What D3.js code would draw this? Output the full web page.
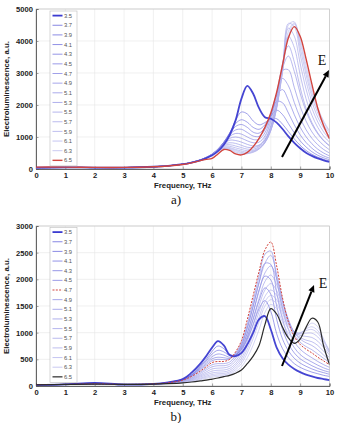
<!DOCTYPE html>
<html><head><meta charset="utf-8">
<script src="https://cdn.jsdelivr.net/npm/d3@7"></script>
<style>html,body{margin:0;padding:0;background:#fff}svg{display:block}</style>
</head><body>
<script>
// ---------- DATA ----------
const freq = [0,1,2,3,4,4.5,5,5.3,5.6,5.8,6.0,6.2,6.4,6.6,6.8,7.0,7.2,7.4,7.6,7.8,8.0,8.2,8.4,8.6,8.8,9.0,9.2,9.4,9.6,9.8,10];
const fieldLabels = ["3.5","3.7","3.9","4.1","4.3","4.5","4.7","4.9","5.1","5.3","5.5","5.7","5.9","6.1","6.3","6.5"];
const xTicks = [0,1,2,3,4,5,6,7,8,9,10];
const yTicksA = [0,1000,2000,3000,4000,5000];
const yTicksB = [0,500,1000,1500,2000,2500,3000];

// panel a)
const a35 = [40,50,45,45,70,100,150,200,270,340,430,560,760,1060,1520,2200,2600,2350,1900,1620,1570,1450,1250,1020,820,650,510,410,330,270,220];
const a37 = [40,50,45,45,70,100,150,200,275,345,440,580,800,1120,1520,1780,1720,1500,1380,1450,1580,1570,1400,1170,940,740,580,460,370,300,250];
const a39 = [40,50,45,45,70,100,150,205,280,350,450,600,830,1130,1420,1540,1460,1300,1240,1380,1650,1840,1700,1420,1130,880,690,540,430,350,290];
const a41 = [40,50,45,45,70,100,150,205,280,355,455,610,840,1110,1330,1390,1300,1150,1120,1300,1700,2110,2070,1750,1380,1070,830,650,510,410,340];
const a43 = [40,50,45,45,70,100,150,205,285,360,460,620,840,1070,1220,1240,1140,1030,1020,1230,1700,2300,2480,2150,1700,1310,1010,790,620,500,410];
const a45 = [40,50,45,45,70,100,150,205,285,360,465,625,830,1020,1110,1090,1000,920,930,1130,1620,2350,2830,2600,2080,1600,1230,960,760,610,500];
const a47 = [40,50,45,45,70,100,150,205,285,360,465,625,810,960,1000,960,880,820,840,1030,1500,2300,3080,3100,2550,1960,1500,1160,920,740,600];
const a49 = [40,50,45,45,70,100,150,205,285,360,465,620,790,900,890,840,770,720,750,920,1350,2150,3150,3530,3050,2370,1810,1400,1100,880,720];
const a51 = [40,50,45,45,70,100,150,205,285,360,465,610,770,820,800,740,680,670,730,900,1300,2050,3300,3850,3350,2550,1900,1450,1130,900,730];
const a53 = [40,50,45,45,70,100,150,205,280,355,460,600,740,760,720,670,620,620,690,860,1230,1950,3250,4150,3800,2950,2200,1680,1300,1030,840];
const a55 = [40,50,45,45,70,100,150,205,280,355,455,590,710,710,660,610,570,580,650,830,1200,1900,3150,4400,4150,3300,2500,1900,1470,1160,940];
const a57 = [40,50,45,45,70,100,150,200,275,350,450,580,680,670,610,560,530,550,630,820,1200,1900,3050,4550,4450,3600,2750,2100,1620,1280,1030];
const a59 = [40,50,45,45,70,100,150,200,275,345,440,570,655,640,580,520,500,530,620,830,1230,1950,3050,4500,4600,3800,2950,2260,1750,1380,1110];
const a61 = [40,50,45,45,70,100,150,200,275,345,430,560,645,620,540,490,480,520,630,860,1300,2000,3050,4300,4560,3950,3100,2380,1850,1460,1170];
const a63 = [40,50,45,45,70,100,145,195,270,340,400,530,635,600,510,460,480,550,700,980,1450,2150,3100,4150,4530,4050,3250,2500,1920,1500,1200];
const a65 = [60,60,50,50,70,95,140,190,260,300,330,470,610,580,470,440,520,700,960,1300,1750,2400,3250,4100,4450,4150,3450,2650,1900,1350,950];

// panel b)
const b35 = [20,30,60,25,40,70,130,250,420,560,720,840,760,580,560,620,780,1000,1250,1310,1060,720,520,400,320,260,215,180,150,130,110];
const b37 = [20,30,55,28,40,65,130,215,380,500,650,750,700,590,580,680,880,1150,1450,1600,1400,980,700,530,420,350,300,260,230,200,180];
const b39 = [20,30,50,28,40,65,125,205,360,470,600,670,640,570,580,700,920,1250,1600,1840,1720,1250,880,660,520,430,370,320,280,250,220];
const b41 = [20,30,48,28,40,62,120,200,340,440,550,600,580,540,580,730,990,1370,1800,2060,1990,1500,1060,790,620,510,440,380,330,290,260];
const b43 = [20,30,45,28,40,62,115,190,320,410,510,540,530,520,600,770,1080,1500,1950,2300,2280,1750,1250,920,720,590,510,450,390,340,300];
const b45 = [22,30,42,29,40,61,112,185,300,385,475,500,495,510,620,810,1160,1600,2060,2470,2530,2000,1450,1060,830,690,600,530,460,400,350];
const b47 = [25,30,40,30,40,60,110,180,280,360,440,460,460,500,640,850,1250,1700,2150,2550,2700,2250,1650,1200,930,780,690,620,540,470,400];
const b49 = [22,30,40,30,40,58,100,165,260,330,400,420,420,450,570,760,1100,1500,1930,2300,2450,2100,1600,1220,960,820,740,680,600,520,440];
const b51 = [22,30,40,30,38,56,95,150,235,300,360,380,380,410,520,700,1000,1380,1780,2120,2250,2020,1600,1250,1000,880,810,760,680,580,480];
const b53 = [22,30,38,30,38,54,88,138,210,265,320,335,340,370,470,640,920,1270,1640,1960,2080,1900,1550,1230,1010,910,860,830,760,650,530];
const b55 = [22,30,38,30,37,52,82,125,190,235,280,295,300,330,420,580,840,1160,1510,1800,1920,1790,1480,1200,1020,950,930,910,840,720,580];
const b57 = [21,30,37,30,37,50,77,115,170,210,245,260,265,295,380,520,760,1060,1390,1680,1800,1700,1420,1170,1020,980,990,990,920,780,620];
const b59 = [21,30,36,30,36,49,72,105,150,185,215,230,235,265,340,470,690,970,1290,1580,1700,1620,1360,1130,1010,1000,1040,1060,990,830,650];
const b61 = [21,30,36,30,36,48,68,95,135,165,190,205,210,240,305,420,620,890,1200,1500,1620,1540,1290,1070,960,990,1070,1110,1040,860,660];
const b63 = [20,30,35,30,35,46,64,85,118,145,165,180,190,215,270,360,530,770,1060,1380,1530,1450,1200,990,880,930,1080,1180,1110,880,640];
const b65 = [20,30,35,30,35,45,60,75,95,110,130,150,175,200,240,300,420,560,760,1150,1450,1350,1100,900,800,880,1100,1270,1200,750,400];

const seriesA = [a35,a37,a39,a41,a43,a45,a47,a49,a51,a53,a55,a57,a59,a61,a63,a65];
const seriesB = [b35,b37,b39,b41,b43,b45,b47,b49,b51,b53,b55,b57,b59,b61,b63,b65];

// ---------- DRAW ----------
const W = 337, H = 423;
const svg = d3.select("body").append("svg").attr("width", W).attr("height", H);
const lightCol = d3.interpolateRgb("#6868dc", "#bcbcee");

function styleFor(panel, i) {
  if (i === 0) return {stroke: "#3b3bd0", width: 1.8, dash: null, op: 0.95};
  if (panel === "a" && i === 15) return {stroke: "#d2453e", width: 1.4, dash: null, op: 1};
  if (panel === "b" && i === 6) return {stroke: "#d2453e", width: 1.0, dash: "2,1.3", op: 1};
  if (panel === "b" && i === 15) return {stroke: "#2a2a2a", width: 1.2, dash: null, op: 1};
  return {stroke: lightCol((i - 1) / 13), width: 0.7, dash: null, op: 0.9};
}

function panel(cfg) {
  const {top, bottom, yMax, yTicks, series, name, legendTop, arrow, eLabel, caption, captionY} = cfg;
  const left = 36, right = 329.5;
  const x = d3.scaleLinear().domain([0, 10]).range([left, right]);
  const y = d3.scaleLinear().domain([0, yMax]).range([bottom, top]);
  const g = svg.append("g");

  // grid
  g.selectAll(".gx").data(xTicks).join("line")
    .attr("x1", d => x(d)).attr("x2", d => x(d)).attr("y1", top).attr("y2", bottom)
    .attr("stroke", "#e6e6e6").attr("stroke-width", 0.6);
  g.selectAll(".gy").data(yTicks).join("line")
    .attr("x1", left).attr("x2", right).attr("y1", d => y(d)).attr("y2", d => y(d))
    .attr("stroke", "#e6e6e6").attr("stroke-width", 0.6);
  // frame
  g.append("rect").attr("x", left).attr("y", top).attr("width", right - left).attr("height", bottom - top)
    .attr("fill", "none").attr("stroke", "#c4c4c4").attr("stroke-width", 0.7);

  // axes
  const xAxis = g.append("g").attr("transform", `translate(0,${bottom})`)
    .call(d3.axisBottom(x).tickValues(xTicks).tickSize(-2.5).tickPadding(4).tickFormat(d3.format("d")));
  const yAxis = g.append("g").attr("transform", `translate(${left},0)`)
    .call(d3.axisLeft(y).tickValues(yTicks).tickSize(-2.5).tickPadding(3).tickFormat(d3.format("d")));
  [xAxis, yAxis].forEach(ax => {
    ax.select(".domain").attr("stroke", "#444").attr("stroke-width", 0.8);
    ax.selectAll(".tick line").attr("stroke", "#666").attr("stroke-width", 0.6);
    ax.selectAll("text").attr("font-family", "Liberation Sans, Arial, sans-serif")
      .attr("font-size", 7.6).attr("font-weight", "bold").attr("fill", "#222");
  });

  // lines
  const line = d3.line().x((d, k) => x(freq[k])).y(d => y(d)).curve(d3.curveCatmullRom.alpha(0.5));
  const clipId = "clip" + name;
  svg.append("clipPath").attr("id", clipId).append("rect")
    .attr("x", left).attr("y", top - 1).attr("width", right - left).attr("height", bottom - top + 1);
  const lg = g.append("g").attr("clip-path", `url(#${clipId})`);
  let order = d3.range(1, 15);
  if (name === "a") order = order.concat([0, 15]);
  else order = order.filter(i => i !== 6).concat([0, 6, 15]);
  order.forEach(i => {
    const s = styleFor(name, i);
    lg.append("path").datum(series[i]).attr("d", line).attr("fill", "none")
      .attr("stroke", s.stroke).attr("stroke-width", s.width).attr("stroke-opacity", s.op)
      .attr("stroke-dasharray", s.dash);
  });

  // axis titles
  g.append("text").attr("x", (left + right) / 2).attr("y", bottom + 19)
    .attr("text-anchor", "middle").attr("font-family", "Liberation Sans, Arial, sans-serif")
    .attr("font-size", 7.8).attr("font-weight", "bold").attr("fill", "#222").text("Frequency, THz");
  g.append("text").attr("transform", `translate(9,${(top + bottom) / 2}) rotate(-90)`)
    .attr("text-anchor", "middle").attr("font-family", "Liberation Sans, Arial, sans-serif")
    .attr("font-size", 7.8).attr("font-weight", "bold").attr("fill", "#222").text("Electroluminescence, a.u.");

  // legend
  const lx = 50, lw = 27, step = 9.65;
  const lgd = g.append("g");
  lgd.append("rect").attr("x", lx).attr("y", legendTop).attr("width", lw).attr("height", step * 16 + 0.5)
    .attr("fill", "#fff").attr("stroke", "#bdbdbd").attr("stroke-width", 0.6);
  fieldLabels.forEach((lab, i) => {
    const s = styleFor(name, i);
    const yy = legendTop + 4.6 + i * step;
    lgd.append("line").attr("x1", lx + 2.5).attr("x2", lx + 12.5).attr("y1", yy).attr("y2", yy)
      .attr("stroke", s.stroke).attr("stroke-width", Math.max(s.width, 0.8)).attr("stroke-dasharray", s.dash);
    lgd.append("text").attr("x", lx + 14).attr("y", yy + 2.1)
      .attr("font-family", "Liberation Sans, Arial, sans-serif").attr("font-size", 5.8)
      .attr("fill", "#555").text(lab);
  });

  // arrow
  const [ax1, ay1, ax2, ay2] = arrow;
  const ang = Math.atan2(ay2 - ay1, ax2 - ax1);
  const hl = 7, hw = 3.2;
  const bx = ax2 - hl * Math.cos(ang), by = ay2 - hl * Math.sin(ang);
  g.append("line").attr("x1", ax1).attr("y1", ay1).attr("x2", bx).attr("y2", by)
    .attr("stroke", "#000").attr("stroke-width", 2);
  g.append("path").attr("d",
    `M${ax2},${ay2} L${bx + hw * Math.sin(ang)},${by - hw * Math.cos(ang)} L${bx - hw * Math.sin(ang)},${by + hw * Math.cos(ang)} Z`)
    .attr("fill", "#000");
  g.append("text").attr("x", eLabel[0]).attr("y", eLabel[1]).attr("text-anchor", "middle")
    .attr("font-family", "Liberation Serif, Times New Roman, serif").attr("font-size", 14).attr("fill", "#111").text("E");

  // caption
  svg.append("text").attr("x", 176).attr("y", captionY).attr("text-anchor", "middle")
    .attr("font-family", "Liberation Serif, Times New Roman, serif").attr("font-size", 13).attr("fill", "#111").text(caption);
}

panel({top: 9, bottom: 169, yMax: 5000, yTicks: yTicksA, series: seriesA, name: "a", legendTop: 11,
  arrow: [282, 157, 329, 70], eLabel: [322, 65], caption: "a)", captionY: 204});
panel({top: 226, bottom: 386, yMax: 3000, yTicks: yTicksB, series: seriesB, name: "b", legendTop: 227.5,
  arrow: [282, 366, 314, 285], eLabel: [323, 288], caption: "b)", captionY: 421});
</script>
</body></html>
